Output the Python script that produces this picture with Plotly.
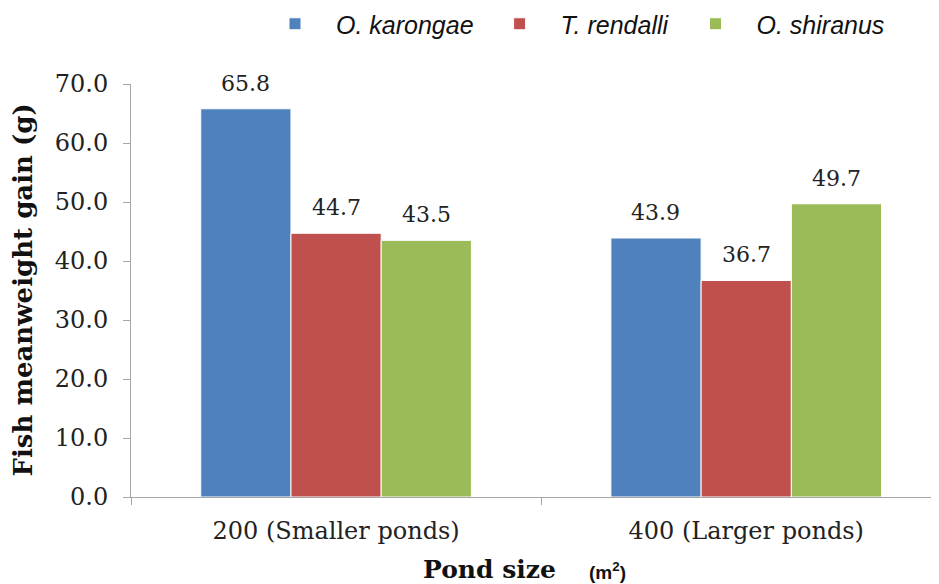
import plotly.graph_objects as go

categories = ["200 (Smaller ponds)", "400 (Larger ponds)"]
series_names = ["O. karongae", "T. rendalli", "O. shiranus"]
o_karongae = [65.8, 43.9]
t_rendalli = [44.7, 36.7]
o_shiranus = [43.5, 49.7]
y_ticks = [0, 10, 20, 30, 40, 50, 60, 70]
y_tick_labels = [f"{v:.1f}" for v in y_ticks]

colors = ["#4F81BD", "#C0504D", "#9BBB59"]
serif = "Georgia, 'DejaVu Serif', serif"
all_series = [o_karongae, t_rendalli, o_shiranus]

BARGAP = 0.34
n_series = len(all_series)
bar_w = (1 - BARGAP) / n_series

# figure is placed by the page at an 8px body offset
W, H = 931, 576
ML, MT, PW, PH = 123, 76, 808, 413

fig = go.Figure()
for name, vals, col in zip(series_names, all_series, colors):
    fig.add_trace(go.Bar(
        name=f"<i>{name}</i>", x=categories, y=vals,
        marker=dict(color=col, line=dict(color="white", width=1)),
    ))

annotations = []
# value labels above each bar, positioned via the category axis
for k, vals in enumerate(all_series):
    off = (k - (n_series - 1) / 2) * bar_w
    for i, v in enumerate(vals):
        annotations.append(dict(
            x=i + off, y=v, xref="x", yref="y", text=f"{v:.1f}",
            showarrow=False, yanchor="bottom", yshift=11,
            font=dict(family=serif, size=22, color="#222222"),
        ))

# axis titles
annotations.append(dict(
    xref="paper", yref="paper", x=0, y=0.5, xshift=-109, xanchor="center", yanchor="middle",
    text="<b>Fish meanweight gain (g)</b>", textangle=-90, showarrow=False,
    font=dict(family=serif, size=26, color="#111111"),
))
annotations.append(dict(
    xref="paper", yref="paper", x=(481 - ML) / PW, y=0, yshift=-72, xanchor="center", yanchor="middle",
    text="<b>Pond size</b>", showarrow=False,
    font=dict(family=serif, size=25, color="#111111"),
))
annotations.append(dict(
    xref="paper", yref="paper", x=(599 - ML) / PW, y=0, yshift=-74, xanchor="center", yanchor="middle",
    text="<b>(m<sup>2</sup>)</b>", showarrow=False,
    font=dict(family="'Liberation Sans Narrow', Arial, sans-serif", size=19, color="#111111"),
))

fig.update_layout(
    width=W, height=H,
    paper_bgcolor="white", plot_bgcolor="white",
    barmode="group", bargap=BARGAP, bargroupgap=0,
    margin=dict(l=ML, r=W - ML - PW, t=MT, b=H - MT - PH, autoexpand=False),
    showlegend=True,
    legend=dict(orientation="h", x=246 / W, xanchor="left", y=1 - 16 / H, yanchor="middle",
                xref="container", yref="container", itemwidth=72,
                font=dict(family="Arial", size=25, color="#111111"),
                traceorder="normal", itemclick=False),
    annotations=annotations,
    xaxis=dict(
        range=[-0.5, 1.47], showline=True, linecolor="#A6A6A6", linewidth=1,
        ticks="outside", tickson="boundaries", ticklen=7, tickcolor="#A6A6A6",
        tickfont=dict(family=serif, size=24, color="#222222"), ticklabelstandoff=12,
        showgrid=False, automargin=False,
    ),
    yaxis=dict(
        range=[0, 70], tickvals=y_ticks, ticktext=y_tick_labels,
        showline=True, linecolor="#A6A6A6", linewidth=1,
        ticks="outside", ticklen=7, tickcolor="#A6A6A6",
        tickfont=dict(family=serif, size=24, color="#222222"), ticklabelstandoff=10,
        showgrid=False, zeroline=False, automargin=False,
    ),
)

fig.write_html("out.html")
